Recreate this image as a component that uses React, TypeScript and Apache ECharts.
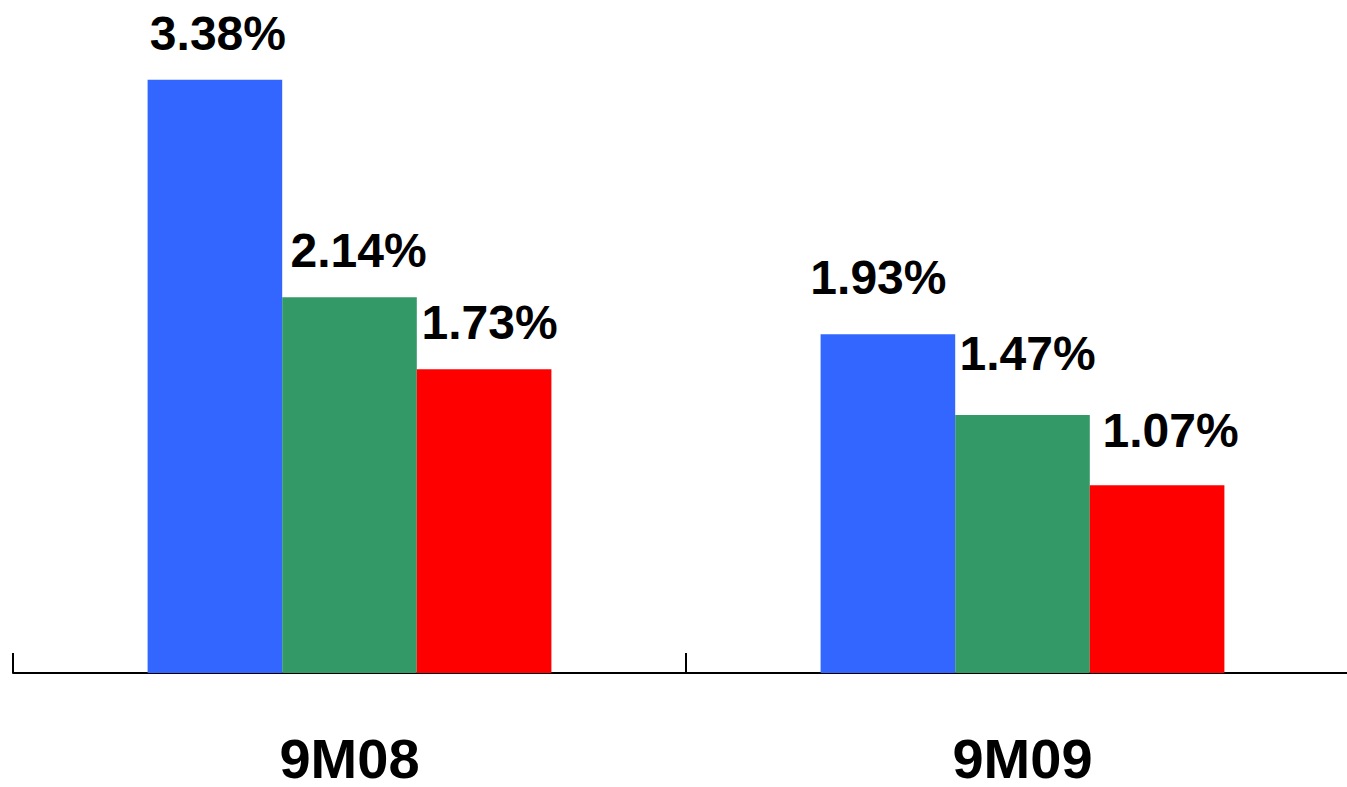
import React, { useEffect, useRef } from "react";
import * as echarts from "echarts";

// Periods on the category axis
const categories = ["9M08", "9M09"];

// Three ratios per period, in percent
const seriesBlue = [3.38, 1.93];
const seriesGreen = [2.14, 1.47];
const seriesRed = [1.73, 1.07];

const seriesColors = ["#3366FF", "#339966", "#FF0000"];

// Hand-placed nudges for each value label [dx, dy], per series then per period
const labelShift: number[][][] = [
  [[3, -22], [-9.5, -33]],
  [[9, -23], [5, -37]],
  [[5.5, -23], [13.5, -31]],
];

const FONT = '"Liberation Sans", Arial, Helvetica, sans-serif';

export default function App() {
  const ref = useRef<HTMLDivElement>(null);

  useEffect(() => {
    document.body.style.margin = "0";
    document.body.style.overflow = "hidden";
    if (!ref.current) return;
    const chart = echarts.init(ref.current, null, { renderer: "svg" });

    const allSeries = [seriesBlue, seriesGreen, seriesRed];
    const series = allSeries.map((values, si) => ({
      type: "bar",
      barGap: "0%",
      barCategoryGap: "40%",
      itemStyle: { color: seriesColors[si] },
      data: values.map((v, ci) => ({
        value: v,
        label: {
          show: true,
          position: "top",
          distance: 0,
          offset: labelShift[si][ci],
          formatter: (p: any) => `${Number(p.value).toFixed(2)}%`,
          fontFamily: FONT,
          fontWeight: "bold",
          fontSize: 48,
          color: "#000",
        },
      })),
    }));

    chart.setOption({
      animation: false,
      backgroundColor: "#ffffff",
      // the plot runs past the right edge so the second period is as wide as the first
      grid: {
        left: 13,
        right: -12,
        top: 6,
        bottom: 114,
        containLabel: false,
        outerBoundsMode: "none",
      },
      xAxis: {
        type: "category",
        data: categories,
        axisLine: { show: true, lineStyle: { color: "#000", width: 2 } },
        axisTick: { show: true, inside: true, length: 20, lineStyle: { color: "#000", width: 2 } },
        axisLabel: {
          margin: 57,
          fontFamily: FONT,
          fontWeight: "bold",
          fontSize: 56,
          color: "#000",
        },
      },
      yAxis: {
        type: "value",
        min: 0,
        max: 3.8,
        show: false,
        splitLine: { show: false },
      },
      series,
    });

    return () => chart.dispose();
  }, []);

  return (
    <div style={{ width: 1347, height: 787, overflow: "hidden", position: "relative" }}>
      <div ref={ref} style={{ width: 1347, height: 787 }} />
    </div>
  );
}
